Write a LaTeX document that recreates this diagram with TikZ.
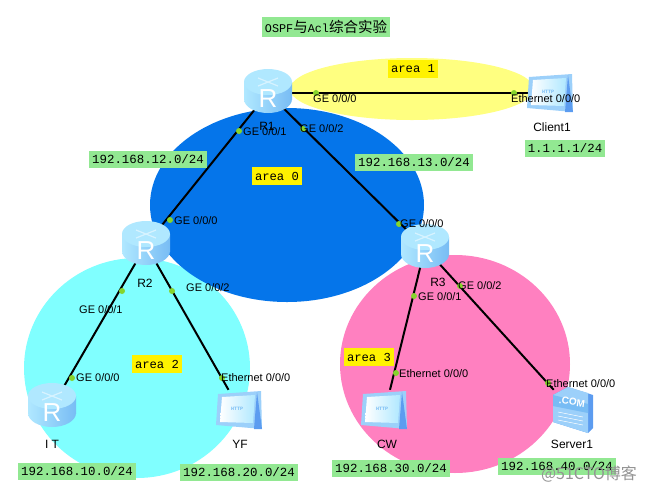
\documentclass[tikz,border=0pt]{standalone}
\usepackage{fontspec}
\setmainfont{Liberation Sans}
\setmonofont{Liberation Mono}
\newfontfamily\cjk{Noto Sans CJK SC}
\definecolor{areacyan}{HTML}{80FFFF}
\definecolor{areapink}{HTML}{FF80C0}
\definecolor{areayellow}{HTML}{FFFF80}
\definecolor{areablue}{HTML}{0575EA}
\definecolor{netgreen}{HTML}{92E892}
\definecolor{portgreen}{HTML}{86D42C}
\definecolor{iconlight}{HTML}{B0E8FF}
\definecolor{icondark}{HTML}{78BCF4}
\definecolor{iconrim}{HTML}{9CD0FA}
\definecolor{iconside}{HTML}{5C9CF0}
\tikzset{
    routerpic/.pic={
        \shade[left color=iconlight, right color=icondark] (0,6) ellipse [x radius=24, y radius=14];
        \shade[left color=iconlight, right color=icondark] (-24,-11) rectangle (24,6);
        \fill[iconlight] (0,-11) ellipse [x radius=24, y radius=13];
        \draw[white, opacity=0.5, line width=1.2pt] (-10,-15) -- (10,-7) (-10,-7) -- (10,-15);
        \node[text=white, font=\fontsize{26}{26}\selectfont, inner sep=0pt] (-R) at (0,6) {R};
    },
    pcpic/.pic={
        \fill[iconrim] (-22,-16) -- (21,-19) -- (22,19) -- (-24,15) -- cycle;
        \fill[iconside] (17,-18) -- (22,19) -- (14,19) -- cycle;
        \shade[left color=white, right color=iconlight] (-18,-13) -- (15,-15) -- (13,13) -- (-20,12) -- cycle;
        \node[text=icondark, font=\fontsize{5}{5}\selectfont\ttfamily\bfseries, inner sep=0pt] (-T) at (-3,-1) {HTTP};
    },
    serverpic/.pic={
        \fill[iconside] (-19,-15) -- (-4,-23) -- (21,-15) -- (21,18) -- (16,23) -- (-19,12) -- cycle;
        \fill[iconrim] (-19,-15) -- (-4,-23) -- (16,-17) -- (16,23) -- (-19,12) -- cycle;
        \fill[icondark] (-19,-15) -- (16,-6) -- (16,3) -- (-19,-4) -- cycle;
        \draw[white, line width=0.5pt] (-14,2) -- (11,7) (-14,6) -- (11,11) (-14,10) -- (11,15);
        \node[text=white, font=\fontsize{10}{10}\selectfont\bfseries, inner sep=0pt, rotate=-8] (-C) at (0,-8) {.COM};
    },
    devnode/.style={minimum width=46pt, minimum height=40pt, inner sep=0pt},
    hubnode/.style={minimum size=20pt, inner sep=0pt},
    devlabel/.style={font=\fontsize{12}{12}\selectfont, inner sep=0pt},
    portlabel/.style={font=\fontsize{11}{11}\selectfont, anchor=west, inner sep=0pt},
    portdot/.style={circle, fill=portgreen, minimum size=6pt, inner sep=0pt},
    netlabel/.style={fill=netgreen, font=\fontsize{12.4}{13}\selectfont\ttfamily, minimum height=17pt, inner xsep=3pt, inner ysep=0pt},
    arealabel/.style={fill=yellow, font=\fontsize{12.2}{13}\selectfont\ttfamily, minimum height=18pt, inner xsep=3pt, inner ysep=0pt},
    link/.style={line width=2pt, black}
}

\begin{document}
\begin{tikzpicture}[x=1pt, y=-1pt]
    \useasboundingbox (0,0) rectangle (648,491);

    \fill[areacyan] (137,368) ellipse [x radius=113, y radius=110];
    \fill[areapink] (455,364) ellipse [x radius=115, y radius=109];
    \fill[areablue] (287,205) ellipse [x radius=137, y radius=97];
    \fill[areayellow] (412,89) ellipse [x radius=122, y radius=31];

    \node[hubnode] (R1) at (268,93) {};
    \node[hubnode] (R2) at (146,245) {};
    \node[hubnode] (R3) at (425,248) {};
    \node[hubnode] (IT) at (52,407) {};
    \node[devnode] (Client1) at (551,93) {};
    \node[devnode] (YF) at (240,410) {};
    \node[devnode] (CW) at (385,410) {};
    \node[devnode] (Server1) at (572,410) {};

    \draw[link] (R1) -- (Client1);
    \draw[link] (R1) -- (R2);
    \draw[link] (R1) -- (R3);
    \draw[link] (R2) -- (IT);
    \draw[link] (R2) -- (YF);
    \draw[link] (R3) -- (CW);
    \draw[link] (R3) -- (Server1);

    \pic (iconR1) at (R1) {routerpic};
    \pic (iconR2) at (R2) {routerpic};
    \pic (iconR3) at (R3) {routerpic};
    \pic (iconIT) at (IT) {routerpic};
    \pic (iconClient1) at (Client1) {pcpic};
    \pic (iconYF) at (YF) {pcpic};
    \pic (iconCW) at (CW) {pcpic};
    \pic (iconServer1) at (Server1) {serverpic};

    \node[portdot] (p1) at (316,93) {};
    \node[portdot] (p2) at (514,93) {};
    \node[portdot] (p3) at (239,131) {};
    \node[portdot] (p4) at (303,129) {};
    \node[portdot] (p5) at (170,220) {};
    \node[portdot] (p6) at (399,224) {};
    \node[portdot] (p7) at (122,291) {};
    \node[portdot] (p8) at (172,291) {};
    \node[portdot] (p9) at (414,296) {};
    \node[portdot] (p10) at (460,286) {};
    \node[portdot] (p11) at (72,378) {};
    \node[portdot] (p12) at (222,378) {};
    \node[portdot] (p13) at (396,373) {};
    \node[portdot] (p14) at (548,383) {};

    \node[portlabel] (g1) at (313,99) {GE 0/0/0};
    \node[portlabel] (g2) at (511,99) {Ethernet 0/0/0};
    \node[portlabel] (g3) at (243,132) {GE 0/0/1};
    \node[portlabel] (g4) at (300,129) {GE 0/0/2};
    \node[portlabel] (g5) at (174,221) {GE 0/0/0};
    \node[portlabel] (g6) at (400,224) {GE 0/0/0};
    \node[portlabel] (g7) at (79,310) {GE 0/0/1};
    \node[portlabel] (g8) at (186,288) {GE 0/0/2};
    \node[portlabel] (g9) at (418,297) {GE 0/0/1};
    \node[portlabel] (g10) at (458,286) {GE 0/0/2};
    \node[portlabel] (g11) at (76,378) {GE 0/0/0};
    \node[portlabel] (g12) at (221,378) {Ethernet 0/0/0};
    \node[portlabel] (g13) at (399,374) {Ethernet 0/0/0};
    \node[portlabel] (g14) at (546,384) {Ethernet 0/0/0};

    \node[devlabel] (nameR1) at (267,126) {R1};
    \node[devlabel] (nameR2) at (145,283) {R2};
    \node[devlabel] (nameR3) at (438,282) {R3};
    \node[devlabel] (nameIT) at (52,444) {I T};
    \node[devlabel] (nameClient1) at (552,127) {Client1};
    \node[devlabel] (nameYF) at (240,444) {YF};
    \node[devlabel] (nameCW) at (387,444) {CW};
    \node[devlabel] (nameServer1) at (572,444) {Server1};

    \node[netlabel] (net11) at (565,148) {1.1.1.1/24};
    \node[netlabel] (net12) at (148,159) {192.168.12.0/24};
    \node[netlabel] (net13) at (414,162) {192.168.13.0/24};
    \node[netlabel] (net10) at (77,471) {192.168.10.0/24};
    \node[netlabel] (net20) at (239,472) {192.168.20.0/24};
    \node[netlabel] (net30) at (391,468) {192.168.30.0/24};
    \node[netlabel] (net40) at (557,466) {192.168.40.0/24};

    \node[arealabel] (area0) at (277,176) {area 0};
    \node[arealabel] (area1) at (413,69) {area 1};
    \node[arealabel] (area2) at (157,364) {area 2};
    \node[arealabel] (area3) at (369,357) {area 3};

    \node[fill=netgreen, minimum height=20pt, inner xsep=3pt, inner ysep=0pt, font=\fontsize{11.8}{12}\ttfamily] (title) at (326,27)
        {\fontsize{11.8}{12}\selectfont OSPF{\cjk\fontsize{14.5}{15}\selectfont 与}Acl{\cjk\fontsize{14.5}{15}\selectfont 综合实验}};
    \node[text=gray!85, font=\fontsize{16}{16}\selectfont\cjk, inner sep=0pt] (mark) at (589,474) {@51CTO博客};
\end{tikzpicture}
\end{document}
